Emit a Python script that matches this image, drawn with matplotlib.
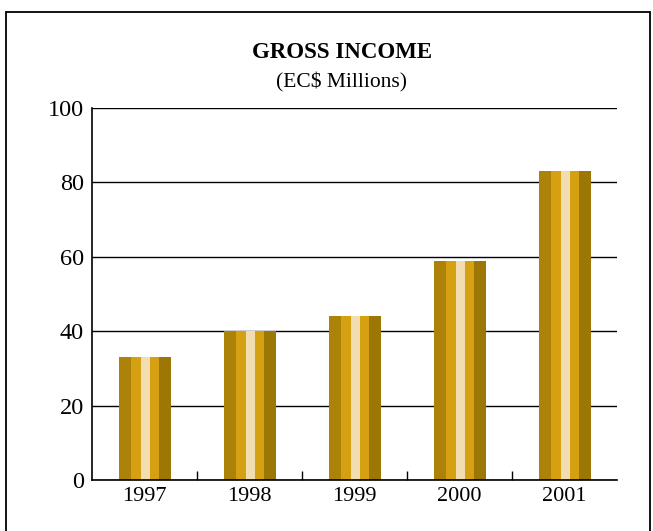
import matplotlib
matplotlib.use("Agg")
import matplotlib.pyplot as plt
from matplotlib.patches import Rectangle
import numpy as np

years = ["1997", "1998", "1999", "2000", "2001"]
income = [33, 40, 44, 59, 83]
yticks = [0, 20, 40, 60, 80, 100]

stripe_colors = ["#AD8208", "#D5A112", "#F2DDB2", "#D5A112", "#9D7705"]
stripe_widths = [12, 10, 9, 9, 12]  # relative widths (px at 105 px per category)

plt.rcParams['font.family'] = ['Liberation Serif', 'DejaVu Serif']

fig = plt.figure(figsize=(6.53, 5.31), dpi=100)
ax = fig.add_axes([92/653, 1-480/531, 525/653, 372/531])

x = np.arange(len(years))
unit = 1/105
total = sum(stripe_widths) * unit
offset = -total/2
for w, c in zip(stripe_widths, stripe_colors):
    ax.bar(x + offset, income, width=w*unit, align='edge', color=c, linewidth=0, zorder=3)
    offset += w*unit

ax.set_xlim(-0.5, len(years)-0.5)
ax.set_ylim(0, 100)
ax.set_yticks(yticks)
ax.set_yticklabels([str(v) for v in yticks], fontsize=17.5)
ax.yaxis.grid(True, color='black', linewidth=1.0, zorder=1)
ax.set_axisbelow(True)
ax.tick_params(axis='y', length=0, pad=6)

ax.set_xticks(x)
ax.set_xticklabels(years, fontsize=16)
ax.set_xticks(np.arange(len(years)-1) + 0.5, minor=True)
ax.tick_params(axis='x', which='major', length=0, pad=5)
ax.tick_params(axis='x', which='minor', direction='in', length=6.5, width=1, color='black')

for s in ['top', 'right']:
    ax.spines[s].set_visible(False)
for s in ['left', 'bottom']:
    ax.spines[s].set_linewidth(1.2)
    ax.spines[s].set_zorder(4)

fig.text(342/653, 1-52/531, "GROSS INCOME", ha='center', va='center', fontsize=16.5, fontweight='bold')
fig.text(342/653, 1-82/531, "(EC$ Millions)", ha='center', va='center', fontsize=15.5)

fig.patches.append(Rectangle((6/653, -0.05), 644/653, 1.05-12/531, transform=fig.transFigure,
                             fill=False, edgecolor='black', linewidth=1.3))

fig.savefig("out.png", dpi=100)
